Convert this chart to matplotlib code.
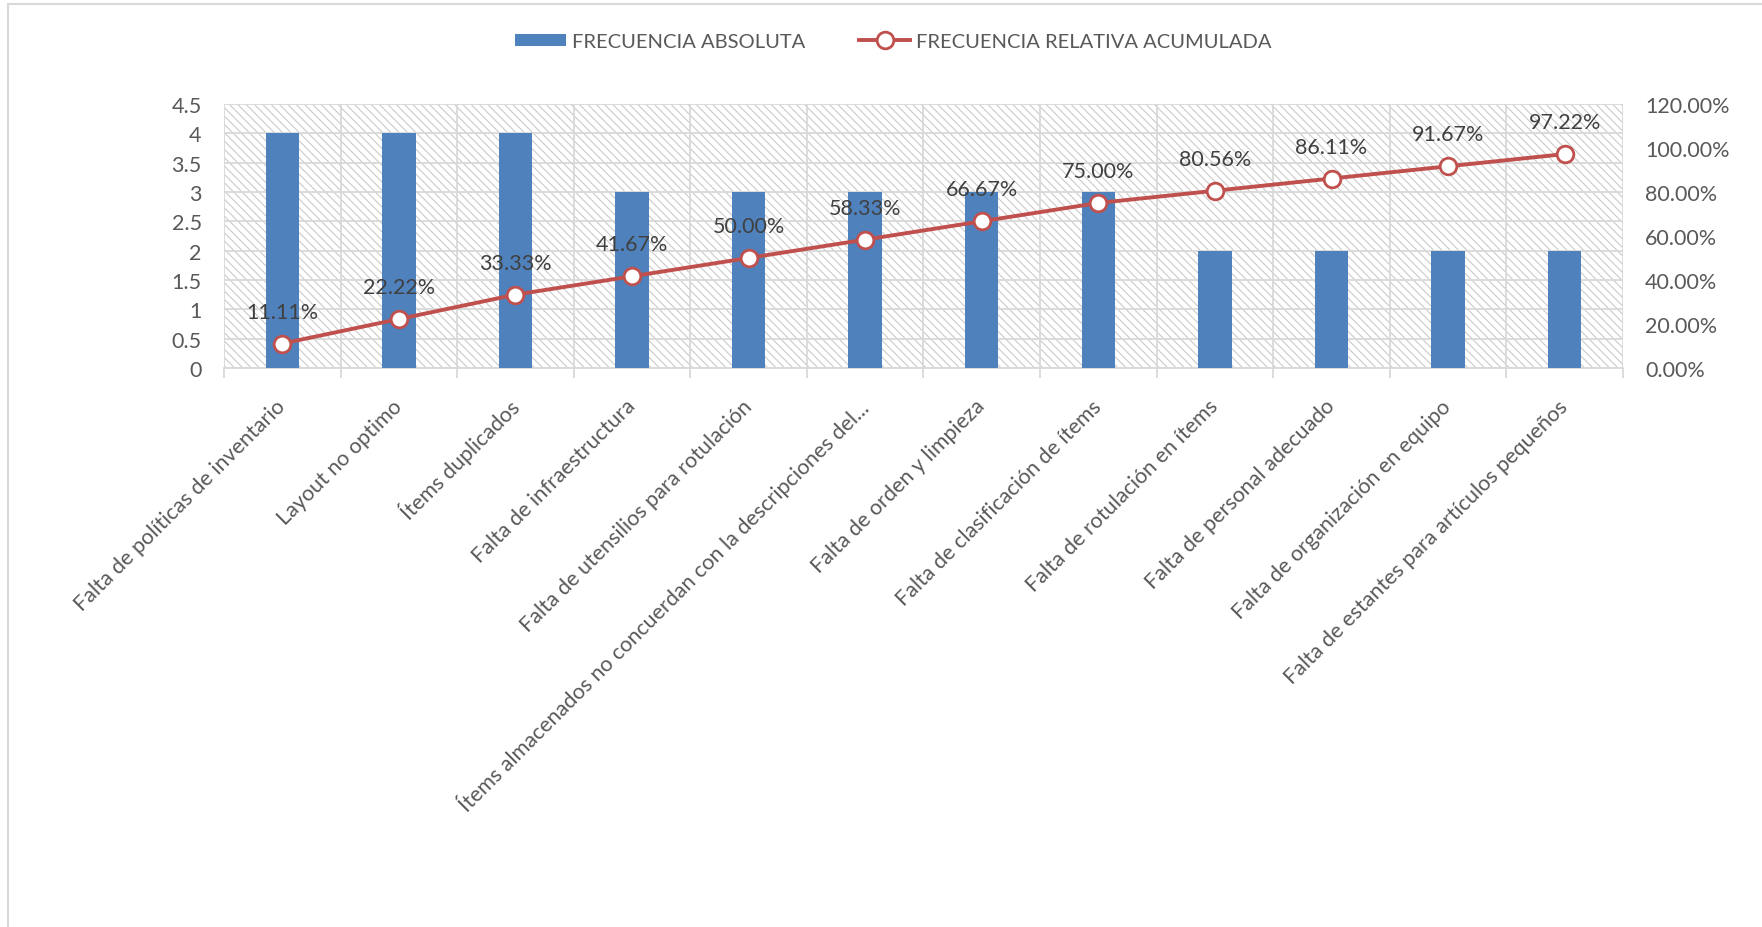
import numpy as np
import matplotlib
matplotlib.use("Agg")
import matplotlib.pyplot as plt
from matplotlib.patches import Rectangle, Patch
from matplotlib.lines import Line2D
from matplotlib.ticker import FuncFormatter, MultipleLocator

categories = [
    "Falta de políticas de inventario",
    "Layout no optimo",
    "Ítems duplicados",
    "Falta de infraestructura",
    "Falta de utensilios para rotulación",
    "Ítems almacenados no concuerdan con la descripciones del...",
    "Falta de orden y limpieza",
    "Falta de clasificación de ítems",
    "Falta de rotulación en ítems",
    "Falta de personal adecuado",
    "Falta de organización en equipo",
    "Falta de estantes para artículos pequeños",
]
frecuencia_abs = [4, 4, 4, 3, 3, 3, 3, 3, 2, 2, 2, 2]
frecuencia_acum = [0.1111, 0.2222, 0.3333, 0.4167, 0.5000, 0.5833,
                   0.6667, 0.7500, 0.8056, 0.8611, 0.9167, 0.9722]

BLUE = "#4F81BD"
RED = "#C0504D"
GRID = "#d9d9d9"
TXT = "#595959"

plt.rcParams["font.family"] = ["Lato", "DejaVu Sans"]
plt.rcParams["hatch.linewidth"] = 0.75

fig = plt.figure(figsize=(17.62, 9.28), dpi=100)
ax = fig.add_axes([0.1271, 0.6024, 0.794, 0.2845])
ax2 = ax.twinx()

x = np.arange(len(categories))

# hatched plot area
bg = Rectangle((0, 0), 1, 1, transform=ax.transAxes, facecolor="white",
               edgecolor="#c8c8c8", hatch="\\\\\\\\", linewidth=0, zorder=0)
ax.add_patch(bg)
ax.patch.set_visible(False)

ax.bar(x, frecuencia_abs, width=0.286, color=BLUE, zorder=3)
ax.set_xlim(-0.5, len(categories) - 0.5)
ax.set_ylim(0, 4.5)
ax.yaxis.set_major_locator(MultipleLocator(0.5))
ax.yaxis.set_major_formatter(FuncFormatter(lambda v, p: f"{v:g}"))

ax.set_xticks(x)
ax.set_xticklabels(categories, rotation=45, ha="right", va="center",
                   rotation_mode="anchor", fontsize=15.5, color=TXT)
ax.set_xticks(np.arange(-0.5, len(categories)), minor=True)
ax.tick_params(axis="x", which="major", length=0, pad=25)
ax.tick_params(axis="x", which="minor", length=7, color=GRID, width=1.3)
ax.tick_params(axis="y", length=0, labelsize=15.5, labelcolor=TXT, pad=16)
ax.grid(axis="y", color=GRID, linewidth=1.3, zorder=1)
ax.grid(axis="x", which="minor", color=GRID, linewidth=1.3, zorder=1)
ax.set_axisbelow(True)
for s in ["top", "left", "right"]:
    ax.spines[s].set_visible(False)
ax.spines["bottom"].set_color(GRID)
ax.spines["bottom"].set_linewidth(1.3)

ax2.plot(x, frecuencia_acum, color=RED, linewidth=2.8, marker="o",
         markersize=12, markerfacecolor="white", markeredgecolor=RED,
         markeredgewidth=2.0, zorder=5)
ax2.set_ylim(0, 1.2)
ax2.yaxis.set_major_locator(MultipleLocator(0.2))
ax2.yaxis.set_major_formatter(FuncFormatter(lambda v, p: f"{v * 100:.2f}%"))
ax2.tick_params(axis="y", length=0, labelsize=15.5, labelcolor=TXT, pad=16)
for s in ax2.spines.values():
    s.set_visible(False)

for xi, v in zip(x, frecuencia_acum):
    ax2.annotate(f"{v * 100:.2f}%", (xi, v), xytext=(0, 23),
                 textcoords="offset points", ha="center", va="center",
                 fontsize=15.5, color="#404040", zorder=6)

handles = [
    Patch(facecolor=BLUE, edgecolor="none"),
    Line2D([], [], color=RED, linewidth=2.8, marker="o", markersize=12,
           markerfacecolor="white", markeredgecolor=RED, markeredgewidth=2.0),
]
fig.legend(handles, ["FRECUENCIA ABSOLUTA", "FRECUENCIA RELATIVA ACUMULADA"],
           loc="center", bbox_to_anchor=(0.507, 0.954), ncol=2, frameon=False,
           fontsize=14.5, labelcolor=TXT, handlelength=2.5, handleheight=0.6,
           handletextpad=0.3, columnspacing=2.7)

# chart frame
fig.add_artist(Rectangle((8 / 1762, -0.1), 1.2, 1.1 - 5 / 928,
                         transform=fig.transFigure, fill=False,
                         edgecolor=GRID, linewidth=1.5))

fig.savefig("out.png", dpi=100, facecolor="white")
